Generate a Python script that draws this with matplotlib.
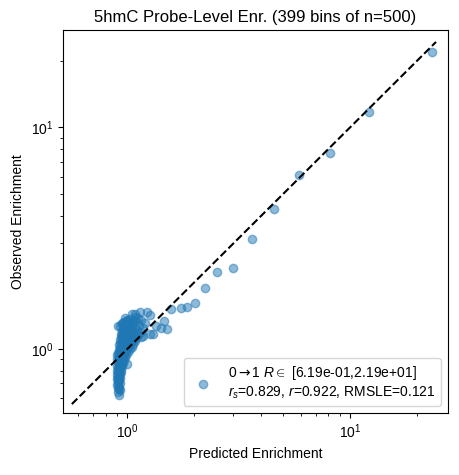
import matplotlib
matplotlib.use("Agg")
import matplotlib.pyplot as plt

plt.rcParams['font.family'] = ['Liberation Sans', 'DejaVu Sans']
plt.rcParams['mathtext.fontset'] = 'custom'
plt.rcParams['mathtext.rm'] = 'Liberation Sans'
plt.rcParams['mathtext.it'] = 'Liberation Sans:italic'
plt.rcParams['mathtext.sf'] = 'DejaVu Sans'

# bins that sit away from the main cluster
outlier_pred = [23.4, 12.1, 8.1, 5.89, 4.55, 3.63, 2.99, 2.54, 2.24, 2.02, 1.86, 1.75,
                1.58, 1.47, 1.516, 1.426, 1.354, 1.30, 1.173, 1.26, 1.16]
outlier_obs = [21.9, 11.7, 7.7, 6.13, 4.30, 3.15, 2.33, 2.23, 1.89, 1.61, 1.55, 1.53,
               1.517, 1.339, 1.232, 1.245, 1.271, 1.169, 1.145, 1.17, 1.13]

# dense cluster near 1
cluster_pred = [0.916, 0.907, 0.926, 0.907, 0.916, 0.902, 0.926, 0.910, 0.920, 0.902,
                0.930, 0.912, 0.905, 0.925, 0.915, 0.935, 0.903, 0.920, 0.940, 0.908,
                0.928, 0.945, 0.903, 0.918, 0.995, 0.935, 0.955, 0.910, 0.925, 0.945,
                0.965, 0.905, 0.935, 0.955, 0.915, 0.975, 0.930, 0.950, 0.905, 0.990,
                0.920, 0.940, 0.965, 0.910, 1.010, 0.930, 0.955, 0.985, 0.915, 0.945,
                1.030, 0.970, 0.925, 1.000, 0.955, 1.050, 0.935, 0.980, 1.020, 0.915,
                0.965, 1.065, 0.945, 1.000, 0.925, 1.040, 0.975, 1.080, 0.950, 1.010,
                0.930, 1.060, 0.990, 0.960, 1.100, 1.030, 0.940, 0.975, 1.075, 1.005,
                0.955, 1.120, 1.045, 0.985, 0.935, 1.090, 1.020, 0.965, 1.150, 1.060,
                0.945, 1.000, 1.110, 0.975, 1.040, 1.180, 0.955, 1.080, 1.010, 0.930,
                1.130, 0.985, 1.050, 0.945, 1.200, 1.020, 0.965, 1.100, 1.060, 0.995,
                1.160, 1.035, 0.975, 1.120, 1.080, 1.047, 1.137, 1.234, 1.260, 1.080,
                0.945, 0.907, 0.922, 0.912, 0.918, 0.908, 0.915, 0.925, 0.912, 0.920,
                0.960, 0.980, 1.015, 0.950, 0.990, 1.025, 0.970, 1.005]
cluster_obs = [0.619, 0.640, 0.652, 0.665, 0.678, 0.690, 0.700, 0.712, 0.724, 0.735,
               0.742, 0.752, 0.763, 0.770, 0.780, 0.788, 0.795, 0.805, 0.812, 0.820,
               0.828, 0.836, 0.842, 0.850, 0.855, 0.860, 0.866, 0.872, 0.880, 0.886,
               0.893, 0.898, 0.903, 0.910, 0.916, 0.920, 0.926, 0.932, 0.938, 0.942,
               0.947, 0.953, 0.958, 0.963, 0.967, 0.972, 0.978, 0.983, 0.988, 0.993,
               0.997, 1.002, 1.008, 1.012, 1.018, 1.022, 1.027, 1.032, 1.037, 1.042,
               1.047, 1.052, 1.057, 1.062, 1.068, 1.072, 1.078, 1.083, 1.088, 1.093,
               1.098, 1.103, 1.108, 1.114, 1.118, 1.124, 1.129, 1.134, 1.140, 1.146,
               1.152, 1.157, 1.162, 1.168, 1.173, 1.180, 1.186, 1.192, 1.198, 1.204,
               1.210, 1.216, 1.222, 1.230, 1.238, 1.245, 1.250, 1.258, 1.266, 1.275,
               1.282, 1.290, 1.298, 1.305, 1.310, 1.318, 1.326, 1.334, 1.342, 1.350,
               1.358, 1.367, 1.375, 1.385, 1.395, 1.440, 1.470, 1.470, 1.430, 1.439,
               1.297, 1.271, 0.660, 0.700, 0.745, 0.790, 0.830, 0.875, 0.730, 0.770,
               1.200, 1.260, 1.300, 1.150, 1.340, 1.110, 1.060, 1.240]

pred = outlier_pred + cluster_pred
obs = outlier_obs + cluster_obs

label = ("0$\\mathsf{\\rightarrow}$1 $R\\in$ [6.19e-01,2.19e+01]\n"
         "$r_s$=0.829, $r$=0.922, RMSLE=0.121")

fig = plt.figure(figsize=(4.59, 4.75), dpi=100)
ax = fig.add_axes([0.137, 0.1305, 0.839, 0.8063])

ax.scatter(pred, obs, alpha=0.5, color='tab:blue', label=label)
ax.plot([0.565, 24.3], [0.565, 24.3], 'k--')

ax.set_xscale('log')
ax.set_yscale('log')
ax.set_xlim(0.515, 27.5)
ax.set_ylim(0.515, 27.5)
ax.set_title('5hmC Probe-Level Enr. (399 bins of n=500)')
ax.set_xlabel('Predicted Enrichment')
ax.set_ylabel('Observed Enrichment')
ax.legend(loc='lower right')

fig.savefig('out.png', dpi=100)
